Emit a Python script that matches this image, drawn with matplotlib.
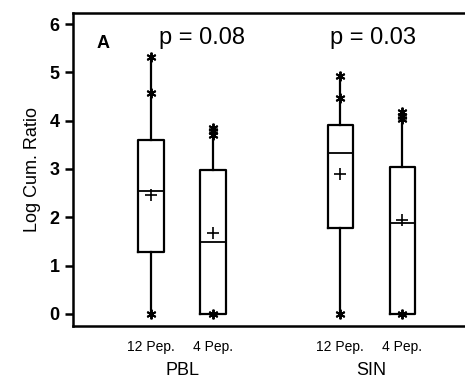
import matplotlib
matplotlib.use("Agg")
import matplotlib.pyplot as plt

plt.rcParams['font.family'] = ['Liberation Sans', 'DejaVu Sans']

# box statistics (log cumulative ratio)
labels = ["12 Pep.", "4 Pep.", "12 Pep.", "4 Pep."]
groups = ["PBL", "SIN"]
p_values = ["p = 0.08", "p = 0.03"]
q1 = [1.29, 0.0, 1.78, 0.0]
medians = [2.55, 1.49, 3.33, 1.88]
q3 = [3.61, 2.98, 3.91, 3.05]
means = [2.46, 1.67, 2.90, 1.94]
whisker_lo = [0.0, 0.0, 0.0, 0.0]
whisker_hi = [5.32, 3.85, 4.93, 4.17]
outliers = [[5.32, 4.57, 0.0],
            [3.85, 3.78, 3.70, 0.0],
            [4.93, 4.47, 0.0],
            [4.17, 4.10, 4.03, 0.0]]

positions = [1, 2, 4.05, 5.05]

stats = []
for i in range(4):
    stats.append(dict(med=medians[i], q1=q1[i], q3=q3[i], mean=means[i],
                      whislo=whisker_lo[i], whishi=whisker_hi[i],
                      fliers=outliers[i], label=labels[i]))

fig = plt.figure(figsize=(4.65, 3.8), dpi=100)
ax = fig.add_axes([0.157, 0.142, 0.843, 0.824])

ax.bxp(stats, positions=positions, widths=0.41, showmeans=True,
       showcaps=False,
       boxprops=dict(color='black', linewidth=1.6),
       medianprops=dict(color='black', linewidth=1.3),
       whiskerprops=dict(color='black', linewidth=1.6),
       meanprops=dict(marker='+', markeredgecolor='black', markersize=9,
                      markeredgewidth=1.2),
       flierprops=dict(marker=(6, 2, 0), markeredgecolor='black',
                       markersize=7, markeredgewidth=1.4))

ax.set_xlim(-0.26, 6.06)
ax.set_ylim(-0.25, 6.23)
ax.set_yticks(range(0, 7))
ax.tick_params(axis='y', length=6, width=1.8, labelsize=13)
for t in ax.get_yticklabels():
    t.set_fontweight('bold')
ax.set_xticks(positions)
ax.set_xticklabels(labels, fontsize=10)
ax.tick_params(axis='x', length=0, pad=10)

for s in ['left', 'top', 'bottom']:
    ax.spines[s].set_linewidth(1.8)
ax.spines['right'].set_visible(False)

ax.set_ylabel("Log Cum. Ratio", fontsize=13, labelpad=6)

# group names under the pairs of boxes
for g, x in zip(groups, [1.5, 4.55]):
    ax.text(x, -0.115, g, transform=ax.get_xaxis_transform(),
            ha='center', va='top', fontsize=13)

for p, x in zip(p_values, [1.82, 4.58]):
    ax.text(x, 5.71, p, ha='center', va='center', fontsize=17)

ax.text(0.23, 5.59, "A", ha='center', va='center', fontsize=13,
        fontweight='bold')

fig.savefig("out.png", dpi=100)
